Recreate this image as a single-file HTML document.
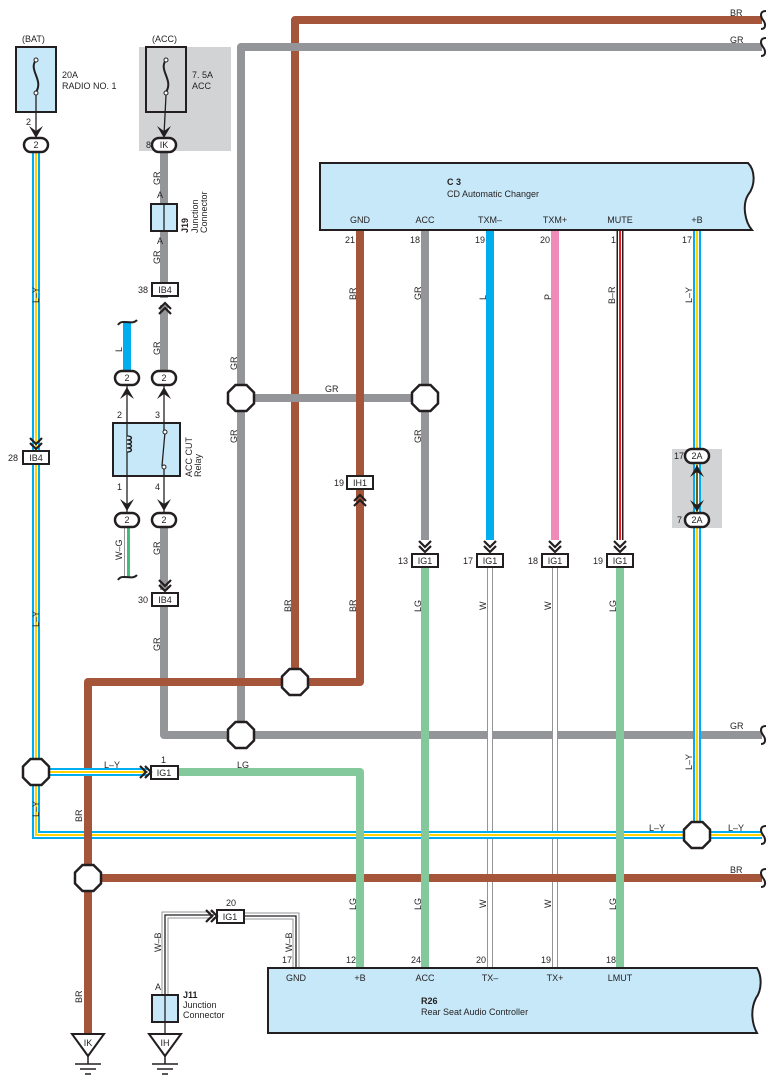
<!DOCTYPE html>
<html><head><meta charset="utf-8"><style>
html,body{margin:0;padding:0;background:#fff;}
svg{display:block;font-family:"Liberation Sans",sans-serif;}
text{font-size:9px;fill:#231f20;}
</style></head><body>
<svg width="775" height="1087" viewBox="0 0 775 1087" xmlns="http://www.w3.org/2000/svg">
<defs>
<polygon id="oct" points="-5.5,-13 5.5,-13 13,-5.5 13,5.5 5.5,13 -5.5,13 -13,5.5 -13,-5.5" fill="#fff" stroke="#231f20" stroke-width="2.5"/>
<path id="chD" d="M-6,-9 L0,-3 L6,-9 M-6,-4 L0,2 L6,-4" fill="none" stroke="#231f20" stroke-width="2.2"/>
<path id="chU" d="M-6,9 L0,3 L6,9 M-6,4 L0,-2 L6,4" fill="none" stroke="#231f20" stroke-width="2.2"/>
<path id="chR" d="M-9,-6 L-3,0 L-9,6 M-4,-6 L2,0 L-4,6" fill="none" stroke="#231f20" stroke-width="2.2"/>
<path id="arD" d="M-7,-8 L0,4 L7,-8 L0,-3 Z" fill="#231f20"/>
<path id="arU" d="M-7,8 L0,-4 L7,8 L0,3 Z" fill="#231f20"/>
<path id="tl" d="M0,-9 C-6,-9 -6,-4 -3,0 C0,4 0,9 -5,9" fill="none" stroke="#231f20" stroke-width="2"/>
</defs>

<rect x="139" y="47" width="92" height="104" fill="#d1d3d4"/>
<rect x="672" y="449" width="50" height="79" fill="#d1d3d4"/>

<path d="M295,682 V20 H762" fill="none" stroke="#a5553a" stroke-width="8" stroke-linejoin="round"/>
<path d="M241,735 V47 H762" fill="none" stroke="#939598" stroke-width="8" stroke-linejoin="round"/>
<path d="M164,605 V735 H762" fill="none" stroke="#939598" stroke-width="8" stroke-linejoin="round"/>
<line x1="164" y1="150" x2="164" y2="298" stroke="#939598" stroke-width="8"/>
<line x1="164" y1="305" x2="164" y2="372" stroke="#939598" stroke-width="8"/>
<line x1="164" y1="526" x2="164" y2="590" stroke="#939598" stroke-width="8"/>
<line x1="241" y1="398" x2="425" y2="398" stroke="#939598" stroke-width="8"/>
<line x1="425" y1="230" x2="425" y2="540" stroke="#939598" stroke-width="8"/>

<path d="M360,230 V682 H88 V1038" fill="none" stroke="#a5553a" stroke-width="8" stroke-linejoin="round"/>
<line x1="490" y1="230" x2="490" y2="540" stroke="#00aeef" stroke-width="8"/>
<line x1="555" y1="230" x2="555" y2="540" stroke="#f08ab8" stroke-width="8"/>
<line x1="127" y1="322" x2="127" y2="372" stroke="#00aeef" stroke-width="8"/>
<line x1="620" y1="230" x2="620" y2="540" stroke="#231f20" stroke-width="7"/>
<line x1="620" y1="230" x2="620" y2="540" stroke="#fff" stroke-width="4"/>
<line x1="620" y1="230" x2="620" y2="540" stroke="#ed1c24" stroke-width="2"/>
<g stroke-width="6"><line x1="490" y1="566" x2="490" y2="968" stroke="#939598"/><line x1="555" y1="566" x2="555" y2="968" stroke="#939598"/></g>
<g stroke-width="4"><line x1="490" y1="566" x2="490" y2="968" stroke="#fff"/><line x1="555" y1="566" x2="555" y2="968" stroke="#fff"/></g>
<line x1="127" y1="526" x2="127" y2="578" stroke="#939598" stroke-width="6"/>
<line x1="127" y1="526" x2="127" y2="578" stroke="#fff" stroke-width="4"/>
<line x1="128" y1="526" x2="128" y2="578" stroke="#00a651" stroke-width="1.5"/>

<g fill="none" stroke-linejoin="miter">
<path d="M36,150 V835 H762" stroke="#00aeef" stroke-width="8"/>
<path d="M697,230 V835" stroke="#00aeef" stroke-width="8"/>
<path d="M36,772 H148" stroke="#00aeef" stroke-width="8"/>
<path d="M36,150 V835 H762" stroke="#fff" stroke-width="4"/>
<path d="M697,230 V835" stroke="#fff" stroke-width="4"/>
<path d="M36,772 H148" stroke="#fff" stroke-width="4"/>
<path d="M36,150 V835 H762" stroke="#ffd200" stroke-width="2"/>
<path d="M697,230 V835" stroke="#ffd200" stroke-width="2"/>
<path d="M36,772 H148" stroke="#ffd200" stroke-width="2"/>
</g>
<line x1="88" y1="878" x2="762" y2="878" stroke="#a5553a" stroke-width="8"/>
<line x1="88" y1="820" x2="88" y2="850" stroke="#a5553a" stroke-width="8"/>

<g fill="none" stroke="#84c99b" stroke-width="8" stroke-linejoin="round">
<path d="M178,772 H360 V968"/>
<line x1="425" y1="566" x2="425" y2="968"/>
<line x1="620" y1="566" x2="620" y2="968"/>
</g>

<g fill="none">
<path d="M165,1000 V915 H214 M244,916 H296 V968" stroke="#939598" stroke-width="7"/>
<path d="M165,1000 V915 H214 M244,916 H296 V968" stroke="#fff" stroke-width="5"/>
<path d="M165,1000 V915 H214 M244,916 H296 V968" stroke="#231f20" stroke-width="1.3"/>
</g>

<use href="#oct" x="241" y="398"/><use href="#oct" x="425" y="398"/>
<use href="#oct" x="295" y="682"/><use href="#oct" x="241" y="735"/>
<use href="#oct" x="36" y="772"/><use href="#oct" x="697" y="835"/>
<use href="#oct" x="88" y="878"/>

<g transform="translate(766,20)"><use href="#tl"/></g>
<g transform="translate(766,47)"><use href="#tl"/></g>
<g transform="translate(766,735)"><use href="#tl"/></g>
<g transform="translate(766,835)"><use href="#tl"/></g>
<g transform="translate(766,878)"><use href="#tl"/></g>
<path d="M118,325 C122,318 132,326 137,320" fill="none" stroke="#231f20" stroke-width="2"/>
<path d="M118,580 C122,573 132,581 137,575" fill="none" stroke="#231f20" stroke-width="2"/>

<rect x="16" y="47" width="40" height="65" fill="#c7e8f8" stroke="#231f20" stroke-width="2"/>
<path d="M36,60 C28,70 44,80 36,92" fill="none" stroke="#231f20" stroke-width="2"/>
<circle cx="36" cy="60" r="2" fill="#fff" stroke="#231f20"/><circle cx="36" cy="93" r="2" fill="#fff" stroke="#231f20"/>
<line x1="36" y1="95" x2="36" y2="135" stroke="#231f20" stroke-width="1.3"/>
<use href="#arD" x="36" y="134"/>
<rect x="146" y="47" width="40" height="65" fill="#d1d3d4" stroke="#231f20" stroke-width="2"/>
<path d="M166,60 C158,70 174,80 166,92" fill="none" stroke="#231f20" stroke-width="2"/>
<circle cx="166" cy="60" r="2" fill="#fff" stroke="#231f20"/><circle cx="166" cy="93" r="2" fill="#fff" stroke="#231f20"/>
<line x1="166" y1="95" x2="164" y2="135" stroke="#231f20" stroke-width="1.3"/>
<use href="#arD" x="164" y="134"/>
<text x="22" y="42">(BAT)</text><text x="152" y="42">(ACC)</text>
<text x="62" y="78">20A</text><text x="62" y="89">RADIO NO. 1</text>
<text x="192" y="78">7. 5A</text><text x="192" y="89">ACC</text>
<text x="26" y="125">2</text>

<g fill="#fff" stroke="#231f20" stroke-width="2.5">
<rect x="24" y="138" width="24" height="14" rx="7"/>
<rect x="152" y="138" width="24" height="14" rx="7"/>
<rect x="115" y="371" width="24" height="14" rx="7"/>
<rect x="152" y="371" width="24" height="14" rx="7"/>
<rect x="115" y="513" width="24" height="14" rx="7"/>
<rect x="152" y="513" width="24" height="14" rx="7"/>
<rect x="685" y="449" width="24" height="14" rx="7"/>
<rect x="685" y="513" width="24" height="14" rx="7"/>
</g>
<g text-anchor="middle">
<text x="36" y="148">2</text><text x="164" y="148">IK</text>
<text x="127" y="381">2</text><text x="164" y="381">2</text>
<text x="127" y="523">2</text><text x="164" y="523">2</text>
<text x="697" y="459">2A</text><text x="697" y="523">2A</text>
</g>
<text x="146" y="148">8</text><text x="674" y="459">17</text><text x="677" y="523">7</text>
<line x1="697" y1="465" x2="697" y2="511" stroke="#231f20" stroke-width="1.3"/>
<use href="#arU" x="697" y="469"/><use href="#arD" x="697" y="508"/>

<rect x="151" y="204" width="26" height="27" fill="#c7e8f8" stroke="#231f20" stroke-width="2"/>
<line x1="164" y1="204" x2="164" y2="231" stroke="#231f20" stroke-width="1.3"/>
<text x="160" y="198" text-anchor="middle">A</text><text x="160" y="244" text-anchor="middle">A</text>
<g transform="translate(188,233) rotate(-90)"><text x="0" y="0" font-weight="bold">J19</text></g>
<g transform="translate(198,233) rotate(-90)"><text x="0" y="0">Junction</text></g>
<g transform="translate(207,233) rotate(-90)"><text x="0" y="0">Connector</text></g>

<rect x="113" y="423" width="67" height="53" fill="#c7e8f8" stroke="#231f20" stroke-width="2"/>
<line x1="127" y1="386" x2="127" y2="512" stroke="#231f20" stroke-width="1.3"/>
<line x1="164" y1="386" x2="164" y2="432" stroke="#231f20" stroke-width="1.3"/>
<line x1="164" y1="467" x2="164" y2="512" stroke="#231f20" stroke-width="1.3"/>
<path d="M127,436 c6,0 6,4 0,4 c6,0 6,4 0,4 c6,0 6,4 0,4 c6,0 6,4 0,4" fill="#c7e8f8" stroke="#231f20" stroke-width="1.3"/>
<line x1="165" y1="432" x2="162" y2="466" stroke="#231f20" stroke-width="1.3"/>
<circle cx="165" cy="432" r="2" fill="#fff" stroke="#231f20"/><circle cx="164" cy="467" r="2" fill="#fff" stroke="#231f20"/>
<use href="#arU" x="127" y="391"/><use href="#arU" x="164" y="391"/>
<use href="#arD" x="127" y="507"/><use href="#arD" x="164" y="507"/>
<text x="117" y="418">2</text><text x="155" y="418">3</text><text x="117" y="490">1</text><text x="155" y="490">4</text>
<g transform="translate(192,477) rotate(-90)"><text>ACC CUT</text></g>
<g transform="translate(201,477) rotate(-90)"><text>Relay</text></g>

<g fill="#fff" stroke="#231f20" stroke-width="2">
<rect x="152" y="283" width="26" height="13"/>
<rect x="152" y="593" width="26" height="13"/>
<rect x="23" y="451" width="26" height="13"/>
<rect x="347" y="476" width="26" height="13"/>
<rect x="412" y="554" width="26" height="13"/>
<rect x="477" y="554" width="26" height="13"/>
<rect x="542" y="554" width="26" height="13"/>
<rect x="607" y="554" width="26" height="13"/>
<rect x="151" y="766" width="27" height="13"/>
<rect x="217" y="910" width="27" height="13"/>
</g>
<g text-anchor="middle">
<text x="165" y="293">IB4</text><text x="165" y="603">IB4</text><text x="36" y="461">IB4</text>
<text x="360" y="486">IH1</text>
<text x="425" y="564">IG1</text><text x="490" y="564">IG1</text><text x="555" y="564">IG1</text><text x="620" y="564">IG1</text>
<text x="164" y="776">IG1</text><text x="230" y="920">IG1</text>
</g>
<text x="138" y="293">38</text><text x="138" y="603">30</text><text x="8" y="461">28</text><text x="334" y="486">19</text>
<text x="398" y="564">13</text><text x="463" y="564">17</text><text x="528" y="564">18</text><text x="593" y="564">19</text>
<text x="161" y="763">1</text><text x="226" y="906">20</text>
<use href="#chU" x="165" y="305"/><use href="#chD" x="165" y="589"/><use href="#chD" x="36" y="447"/>
<use href="#chU" x="360" y="497"/>
<use href="#chD" x="425" y="550"/><use href="#chD" x="490" y="550"/><use href="#chD" x="555" y="550"/><use href="#chD" x="620" y="550"/>
<use href="#chR" x="149" y="772"/><use href="#chR" x="215" y="916"/>

<path d="M320,163 H748 C755,170 756,185 748,195 C742,205 745,222 752,230 H320 Z" fill="#c7e8f8" stroke="#231f20" stroke-width="2"/>
<text x="447" y="185" font-weight="bold">C 3</text><text x="447" y="197">CD Automatic Changer</text>
<g text-anchor="middle">
<text x="360" y="223">GND</text><text x="425" y="223">ACC</text><text x="490" y="223">TXM–</text>
<text x="555" y="223">TXM+</text><text x="620" y="223">MUTE</text><text x="697" y="223">+B</text>
</g>
<g text-anchor="end">
<text x="355" y="243">21</text><text x="420" y="243">18</text><text x="485" y="243">19</text>
<text x="550" y="243">20</text><text x="616" y="243">1</text><text x="692" y="243">17</text>
</g>

<path d="M268,968 H757 C762,976 762,990 756,998 C750,1010 752,1024 757,1033 H268 Z" fill="#c7e8f8" stroke="#231f20" stroke-width="2"/>
<text x="421" y="1004" font-weight="bold">R26</text><text x="421" y="1015">Rear Seat Audio Controller</text>
<g text-anchor="middle">
<text x="296" y="981">GND</text><text x="360" y="981">+B</text><text x="425" y="981">ACC</text>
<text x="490" y="981">TX–</text><text x="555" y="981">TX+</text><text x="620" y="981">LMUT</text>
</g>
<g text-anchor="end">
<text x="292" y="963">17</text><text x="356" y="963">12</text><text x="421" y="963">24</text>
<text x="486" y="963">20</text><text x="551" y="963">19</text><text x="616" y="963">18</text>
</g>

<rect x="152" y="995" width="26" height="27" fill="#c7e8f8" stroke="#231f20" stroke-width="2"/>
<line x1="165" y1="995" x2="165" y2="1035" stroke="#231f20" stroke-width="1.3"/>
<text x="155" y="990">A</text>
<text x="183" y="998" font-weight="bold">J11</text><text x="183" y="1008">Junction</text><text x="183" y="1018">Connector</text>
<g fill="#fff" stroke="#231f20" stroke-width="2">
<path d="M72,1034 H104 L88,1056 Z"/><path d="M149,1034 H181 L165,1056 Z"/>
</g>
<g stroke="#231f20" stroke-width="1.5">
<line x1="88" y1="1056" x2="88" y2="1064"/><line x1="75" y1="1064" x2="101" y2="1064"/><line x1="80" y1="1069" x2="96" y2="1069"/><line x1="85" y1="1074" x2="91" y2="1074"/>
<line x1="165" y1="1056" x2="165" y2="1064"/><line x1="152" y1="1064" x2="178" y2="1064"/><line x1="157" y1="1069" x2="173" y2="1069"/><line x1="162" y1="1074" x2="168" y2="1074"/>
</g>
<text x="88" y="1046" text-anchor="middle">IK</text><text x="165" y="1046" text-anchor="middle">IH</text>

<text x="730" y="16">BR</text><text x="730" y="43">GR</text>
<text x="325" y="392">GR</text><text x="730" y="729">GR</text>
<text x="104" y="768">L–Y</text><text x="237" y="768">LG</text>
<text x="649" y="831">L–Y</text><text x="728" y="831">L–Y</text>
<text x="730" y="873">BR</text>

<g>
<g transform="translate(39,303) rotate(-90)"><text>L–Y</text></g>
<g transform="translate(39,627) rotate(-90)"><text>L–Y</text></g>
<g transform="translate(39,817) rotate(-90)"><text>L–Y</text></g>
<g transform="translate(82,822) rotate(-90)"><text>BR</text></g>
<g transform="translate(82,1003) rotate(-90)"><text>BR</text></g>
<g transform="translate(160,185) rotate(-90)"><text>GR</text></g>
<g transform="translate(160,264) rotate(-90)"><text>GR</text></g>
<g transform="translate(160,355) rotate(-90)"><text>GR</text></g>
<g transform="translate(160,555) rotate(-90)"><text>GR</text></g>
<g transform="translate(160,651) rotate(-90)"><text>GR</text></g>
<g transform="translate(122,352) rotate(-90)"><text>L</text></g>
<g transform="translate(122,560) rotate(-90)"><text>W–G</text></g>
<g transform="translate(237,370) rotate(-90)"><text>GR</text></g>
<g transform="translate(237,443) rotate(-90)"><text>GR</text></g>
<g transform="translate(291,612) rotate(-90)"><text>BR</text></g>
<g transform="translate(356,300) rotate(-90)"><text>BR</text></g>
<g transform="translate(356,612) rotate(-90)"><text>BR</text></g>
<g transform="translate(421,300) rotate(-90)"><text>GR</text></g>
<g transform="translate(421,443) rotate(-90)"><text>GR</text></g>
<g transform="translate(421,612) rotate(-90)"><text>LG</text></g>
<g transform="translate(421,910) rotate(-90)"><text>LG</text></g>
<g transform="translate(356,910) rotate(-90)"><text>LG</text></g>
<g transform="translate(486,300) rotate(-90)"><text>L</text></g>
<g transform="translate(486,610) rotate(-90)"><text>W</text></g>
<g transform="translate(486,908) rotate(-90)"><text>W</text></g>
<g transform="translate(551,300) rotate(-90)"><text>P</text></g>
<g transform="translate(551,610) rotate(-90)"><text>W</text></g>
<g transform="translate(551,908) rotate(-90)"><text>W</text></g>
<g transform="translate(615,304) rotate(-90)"><text>B–R</text></g>
<g transform="translate(616,612) rotate(-90)"><text>LG</text></g>
<g transform="translate(616,910) rotate(-90)"><text>LG</text></g>
<g transform="translate(692,303) rotate(-90)"><text>L–Y</text></g>
<g transform="translate(692,770) rotate(-90)"><text>L–Y</text></g>
<g transform="translate(161,952) rotate(-90)"><text>W–B</text></g>
<g transform="translate(292,952) rotate(-90)"><text>W–B</text></g>
</g>
</svg>
</body></html>
